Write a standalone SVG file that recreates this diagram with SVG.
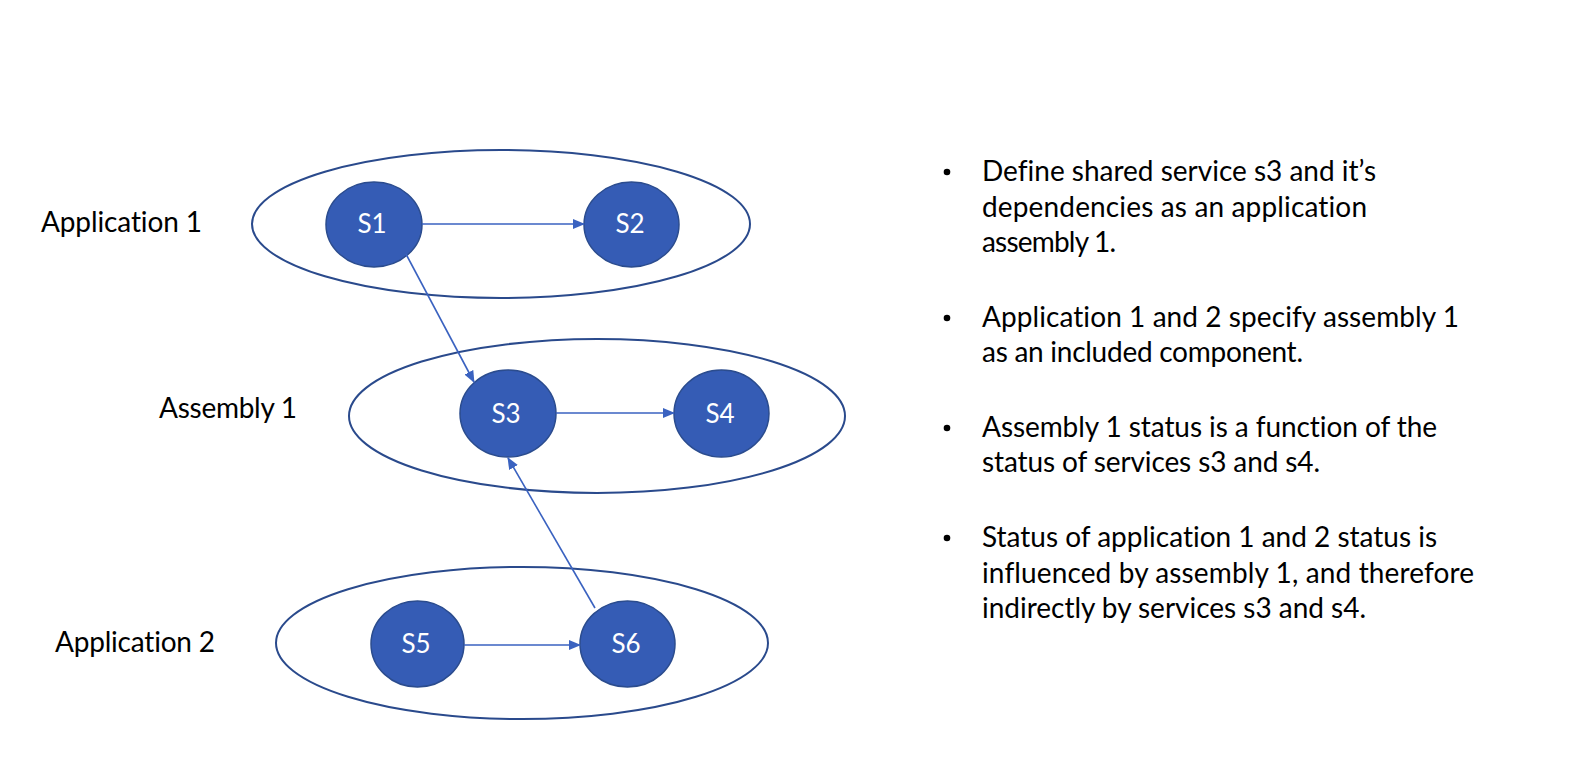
<svg xmlns="http://www.w3.org/2000/svg" width="1576" height="764" viewBox="0 0 1576 764">
<style>
text{font-variant-ligatures:none;font-feature-settings:"liga" 0,"clig" 0}
.grp{fill:none;stroke:#2A4A8C;stroke-width:2}
.svc{fill:#355CB5;stroke:#2B4C8E;stroke-width:1.5}
.svl{font-family:Lato,"Open Sans",sans-serif;font-size:26px;fill:#fff;text-anchor:middle}
.lbl{font-family:Lato,"Open Sans",sans-serif;font-size:28px;fill:#000}
.txt{font-family:Lato,"Open Sans",sans-serif;font-size:28px;fill:#000}
.con{stroke:#3A62C0;stroke-width:1.6;fill:none;marker-end:url(#ah)}
</style>
<defs>
<marker id="ah" markerUnits="userSpaceOnUse" markerWidth="12" markerHeight="10" refX="11" refY="5" orient="auto">
<path d="M0,0 L12,5 L0,10 Z" fill="#3A62C0"/>
</marker>
</defs>
<rect width="1576" height="764" fill="#fff"/>
<g id="app1">
<ellipse class="grp" cx="501" cy="224" rx="249" ry="74"/>
<text class="lbl" x="41" y="232" textLength="161">Application 1</text>
</g>
<g id="asm1">
<ellipse class="grp" cx="597" cy="416" rx="248" ry="77"/>
<text class="lbl" x="159" y="418" textLength="138">Assembly 1</text>
</g>
<g id="app2">
<ellipse class="grp" cx="522" cy="643" rx="246" ry="76"/>
<text class="lbl" x="55" y="652" textLength="160">Application 2</text>
</g>
<g id="s1"><ellipse class="svc" cx="374" cy="224.5" rx="48" ry="42.5"/><text class="svl" x="372" y="233">S1</text></g>
<g id="s2"><ellipse class="svc" cx="631.5" cy="224.5" rx="47.5" ry="42.5"/><text class="svl" x="630" y="233">S2</text></g>
<g id="s3"><ellipse class="svc" cx="508" cy="413.5" rx="48" ry="43.5"/><text class="svl" x="506" y="423">S3</text></g>
<g id="s4"><ellipse class="svc" cx="721.5" cy="413.5" rx="47.5" ry="43.5"/><text class="svl" x="720" y="423">S4</text></g>
<g id="s5"><ellipse class="svc" cx="417.5" cy="644" rx="46.5" ry="43"/><text class="svl" x="416" y="653">S5</text></g>
<g id="s6"><ellipse class="svc" cx="627.5" cy="644" rx="47.5" ry="43"/><text class="svl" x="626" y="653">S6</text></g>
<g id="connectors">
<line class="con" x1="422" y1="224" x2="584" y2="224"/>
<line class="con" x1="556" y1="413" x2="674" y2="413"/>
<line class="con" x1="464" y1="645" x2="580" y2="645"/>
<line class="con" x1="406" y1="254" x2="474" y2="382"/>
<line class="con" x1="595" y1="608" x2="508" y2="458"/>
</g>
<g id="notes">
<circle cx="947" cy="172" r="3.3" fill="#000"/>
<circle cx="947" cy="318" r="3.3" fill="#000"/>
<circle cx="947" cy="428" r="3.3" fill="#000"/>
<circle cx="947" cy="538" r="3.3" fill="#000"/>
<text class="txt" x="982" y="181" textLength="394">Define shared service s3 and it’s</text>
<text class="txt" x="982" y="217" textLength="385">dependencies as an application</text>
<text class="txt" x="982" y="252" textLength="134">assembly 1.</text>
<text class="txt" x="982" y="327" textLength="477">Application 1 and 2 specify assembly 1</text>
<text class="txt" x="982" y="362" textLength="321">as an included component.</text>
<text class="txt" x="982" y="437" textLength="455">Assembly 1 status is a function of the</text>
<text class="txt" x="982" y="472" textLength="338">status of services s3 and s4.</text>
<text class="txt" x="982" y="547" textLength="455">Status of application 1 and 2 status is</text>
<text class="txt" x="982" y="583" textLength="492">influenced by assembly 1, and therefore</text>
<text class="txt" x="982" y="618" textLength="384">indirectly by services s3 and s4.</text>
</g>
</svg>
